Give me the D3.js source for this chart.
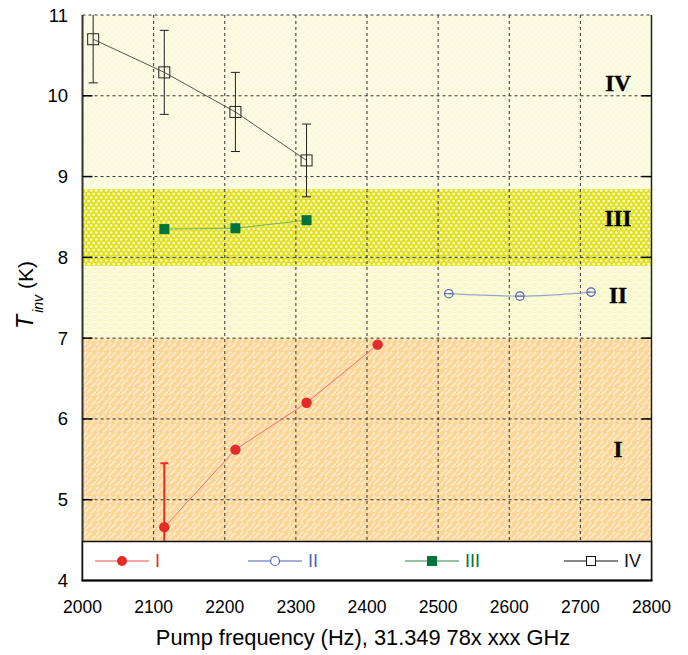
<!DOCTYPE html>
<html><head><meta charset="utf-8">
<script src="https://cdn.jsdelivr.net/npm/d3@7/dist/d3.min.js"></script>
<style>body{margin:0;background:#fff}svg{display:block}</style>
</head><body>
<script>
// ---- data ----
const xTicks = [2000, 2100, 2200, 2300, 2400, 2500, 2600, 2700, 2800];
const yTicks = [4, 5, 6, 7, 8, 9, 10, 11];
const seriesNames = ["I", "II", "III", "IV"];
const xI = [2115, 2215, 2315, 2415];
const yI = [4.66, 5.62, 6.20, 6.92];
const eI = [0.79, 0, 0, 0];
const xII = [2515, 2615, 2715];
const yII = [7.55, 7.52, 7.57];
const xIII = [2115, 2215, 2315];
const yIII = [8.35, 8.36, 8.46];
const xIV = [2015, 2115, 2215, 2315];
const yIV = [10.70, 10.29, 9.80, 9.20];
const eIV = [0.54, 0.52, 0.49, 0.45];
const bandNames = ["I", "II", "III", "IV"];
const bandLo = [4, 7.0, 7.895, 8.845];
const bandHi = [7.0, 7.895, 8.845, 11];
const bandLabelY = [5.6, 7.5, 8.45, 10.12];

const W = 688, H = 655;
const L = 82.5, R = 651.5, T = 15, B = 580.5;
const legTop = 541.5;

const svg = d3.select("body").append("svg").attr("width", W).attr("height", H);
const x = d3.scaleLinear().domain([2000, 2800]).range([L, R]);
const y = d3.scaleLinear().domain([4, 11]).range([B, T]);

const defs = svg.append("defs");
// Band I: orange with light diagonal dashes
const p1 = defs.append("pattern").attr("id", "pI").attr("patternUnits", "userSpaceOnUse").attr("width", 12).attr("height", 9);
p1.append("rect").attr("width", 12).attr("height", 9).attr("fill", "#fcd593");
p1.append("path").attr("d", "M1,8 L8,1 M7,9.5 L12,4.5 M-1,4.5 L3,0.5").attr("stroke", "#fde9c8").attr("stroke-width", 2);
// Band II: pale yellow scales
const p2 = defs.append("pattern").attr("id", "pII").attr("patternUnits", "userSpaceOnUse").attr("width", 10).attr("height", 8);
p2.append("rect").attr("width", 10).attr("height", 8).attr("fill", "#f7f7c8");
p2.append("path").attr("d", "M0,4 Q5,-1 10,4 M-5,8 Q0,3 5,8 M5,8 Q10,3 15,8").attr("stroke", "#fdfde8").attr("stroke-width", 1.3).attr("fill", "none");
// Band III: yellow with white dots
const p3 = defs.append("pattern").attr("id", "pIII").attr("patternUnits", "userSpaceOnUse").attr("width", 5).attr("height", 7);
p3.append("rect").attr("width", 5).attr("height", 7).attr("fill", "#e2e01c");
p3.append("circle").attr("cx", 1.2).attr("cy", 1.5).attr("r", 1.35).attr("fill", "#fcfcd8");
p3.append("circle").attr("cx", 3.7).attr("cy", 5).attr("r", 1.35).attr("fill", "#fcfcd8");
// Band IV: pale yellow faint checker
const p4 = defs.append("pattern").attr("id", "pIV").attr("patternUnits", "userSpaceOnUse").attr("width", 6).attr("height", 6);
p4.append("rect").attr("width", 6).attr("height", 6).attr("fill", "#f9f9dc");
p4.append("rect").attr("x", 0).attr("y", 0).attr("width", 3).attr("height", 3).attr("fill", "#fbfbe6");
p4.append("rect").attr("x", 3).attr("y", 3).attr("width", 3).attr("height", 3).attr("fill", "#fbfbe6");

defs.append("clipPath").attr("id", "plotClip").append("rect")
  .attr("x", L).attr("y", T).attr("width", R - L).attr("height", legTop - T);

// bands
const patIds = ["pI", "pII", "pIII", "pIV"];
bandNames.forEach((n, i) => {
  svg.append("rect").attr("x", L).attr("width", R - L)
    .attr("y", y(bandHi[i])).attr("height", y(bandLo[i]) - y(bandHi[i]))
    .attr("fill", `url(#${patIds[i]})`);
});

// grid
const grid = svg.append("g").attr("stroke", "#333").attr("stroke-width", 1).attr("stroke-dasharray", "3,3");
xTicks.slice(1, -1).forEach(v => grid.append("line").attr("x1", x(v)).attr("x2", x(v)).attr("y1", T).attr("y2", legTop));
yTicks.slice(1, -1).forEach(v => grid.append("line").attr("x1", L).attr("x2", R).attr("y1", y(v)).attr("y2", y(v)));
// top border dashed
svg.append("line").attr("x1", L).attr("x2", R).attr("y1", T).attr("y2", T).attr("stroke", "#333").attr("stroke-dasharray", "3,3");

// band labels
bandNames.forEach((n, i) => {
  svg.append("text").attr("x", 618).attr("y", y(bandLabelY[i])).attr("text-anchor", "middle")
    .attr("dominant-baseline", "middle")
    .attr("font-family", "Liberation Serif, serif").attr("font-weight", "bold").attr("font-size", 23)
    .attr("stroke", "#000").attr("stroke-width", 0.4)
    .text(n);
});

// data
const data = svg.append("g").attr("clip-path", "url(#plotClip)");
const line = d3.line().x(d => x(d[0])).y(d => y(d[1]));
const zip = (a, b) => a.map((v, i) => [v, b[i]]);

// IV
const dIV = zip(xIV, yIV);
data.append("path").attr("d", line(dIV)).attr("fill", "none").attr("stroke", "#555").attr("stroke-width", 1);
dIV.forEach((d, i) => {
  const g = data.append("g").attr("stroke", "#222").attr("stroke-width", 1);
  g.append("line").attr("x1", x(d[0])).attr("x2", x(d[0])).attr("y1", y(d[1] + eIV[i])).attr("y2", y(d[1] - eIV[i]));
  [d[1] + eIV[i], d[1] - eIV[i]].forEach(v => g.append("line").attr("x1", x(d[0]) - 4.5).attr("x2", x(d[0]) + 4.5).attr("y1", y(v)).attr("y2", y(v)));
  data.append("rect").attr("x", x(d[0]) - 5.5).attr("y", y(d[1]) - 5.5).attr("width", 11).attr("height", 11)
    .attr("fill", "none").attr("stroke", "#222").attr("stroke-width", 1);
});
// III
const dIII = zip(xIII, yIII);
data.append("path").attr("d", line(dIII)).attr("fill", "none").attr("stroke", "#74b060").attr("stroke-width", 1);
dIII.forEach(d => data.append("rect").attr("x", x(d[0]) - 5).attr("y", y(d[1]) - 5).attr("width", 10).attr("height", 10).attr("fill", "#00733a"));
// II
const dII = zip(xII, yII);
data.append("path").attr("d", d3.line().curve(d3.curveMonotoneX).x(d => x(d[0])).y(d => y(d[1]))(dII))
  .attr("fill", "none").attr("stroke", "#98a6cc").attr("stroke-width", 1.2);
dII.forEach(d => {
  data.append("circle").attr("cx", x(d[0])).attr("cy", y(d[1])).attr("r", 4.2).attr("fill", "none").attr("stroke", "#4a62b8").attr("stroke-width", 1.2);
  data.append("line").attr("x1", x(d[0]) - 4).attr("x2", x(d[0]) + 4).attr("y1", y(d[1])).attr("y2", y(d[1])).attr("stroke", "#4a62b8").attr("stroke-width", 1);
});
// I
const dI = zip(xI, yI);
data.append("path").attr("d", line(dI)).attr("fill", "none").attr("stroke", "#f07070").attr("stroke-width", 1);
dI.forEach((d, i) => {
  if (eI[i] > 0) {
    data.append("line").attr("x1", x(d[0])).attr("x2", x(d[0])).attr("y1", y(d[1] + eI[i])).attr("y2", y(d[1] - eI[i])).attr("stroke", "#e52a2a").attr("stroke-width", 2);
    data.append("line").attr("x1", x(d[0]) - 4).attr("x2", x(d[0]) + 4).attr("y1", y(d[1] + eI[i])).attr("y2", y(d[1] + eI[i])).attr("stroke", "#e52a2a").attr("stroke-width", 2);
  }
  data.append("circle").attr("cx", x(d[0])).attr("cy", y(d[1])).attr("r", 5.2).attr("fill", "#e52a2a");
});

// borders
svg.append("line").attr("x1", L).attr("x2", L).attr("y1", T).attr("y2", B).attr("stroke", "#333").attr("stroke-width", 2);
svg.append("line").attr("x1", R).attr("x2", R).attr("y1", T).attr("y2", B).attr("stroke", "#222").attr("stroke-width", 1.5);

// ticks inward
yTicks.slice(1, -1).forEach(v => {
  svg.append("line").attr("x1", L).attr("x2", L + 10).attr("y1", y(v)).attr("y2", y(v)).attr("stroke", "#000").attr("stroke-width", 1.5);
  svg.append("line").attr("x1", R - 10).attr("x2", R).attr("y1", y(v)).attr("y2", y(v)).attr("stroke", "#000").attr("stroke-width", 1.5);
});

// legend
const lg = svg.append("g");
lg.append("rect").attr("x", L).attr("y", legTop).attr("width", R - L).attr("height", B - legTop)
  .attr("fill", "#fff").attr("stroke", "#111").attr("stroke-width", 1.5);
lg.append("line").attr("x1", L - 1).attr("x2", R + 1).attr("y1", B).attr("y2", B).attr("stroke", "#000").attr("stroke-width", 2);
const legX = [95, 248, 405, 564];
const legColors = ["#e52a2a", "#4a62b8", "#00733a", "#111"];
const legLineColors = ["#e85050", "#4a62b8", "#2a8a4a", "#111"];
const ly = 561;
seriesNames.forEach((n, i) => {
  const x0 = legX[i], xm = x0 + 27;
  lg.append("line").attr("x1", x0).attr("x2", x0 + 54).attr("y1", ly).attr("y2", ly).attr("stroke", legLineColors[i]).attr("stroke-width", 1.2);
  if (i === 0) lg.append("circle").attr("cx", xm).attr("cy", ly).attr("r", 5).attr("fill", legColors[i]);
  if (i === 1) lg.append("circle").attr("cx", xm).attr("cy", ly).attr("r", 4.5).attr("fill", "#fff").attr("stroke", legColors[i]).attr("stroke-width", 1.2);
  if (i === 2) lg.append("rect").attr("x", xm - 5).attr("y", ly - 5).attr("width", 10).attr("height", 10).attr("fill", legColors[i]);
  if (i === 3) lg.append("rect").attr("x", xm - 4.5).attr("y", ly - 4.5).attr("width", 9).attr("height", 9).attr("fill", "#fff").attr("stroke", legColors[i]).attr("stroke-width", 1);
  lg.append("text").attr("x", x0 + 60).attr("y", ly).attr("dominant-baseline", "central")
    .attr("font-family", "Liberation Sans, Arial, sans-serif").attr("font-size", 18)
    .attr("fill", legColors[i]).text(n);
});

// tick labels
const fnt = "Liberation Sans, Arial, sans-serif";
xTicks.forEach(v => svg.append("text").attr("x", x(v)).attr("y", 612.5).attr("text-anchor", "middle")
  .attr("font-family", fnt).attr("font-size", 17.5).text(v));
yTicks.forEach(v => svg.append("text").attr("x", 68).attr("y", y(v)).attr("text-anchor", "end")
  .attr("dominant-baseline", "central").attr("font-family", fnt).attr("font-size", 18.5).text(v));

// axis titles
svg.append("text").attr("x", 363).attr("y", 645).attr("text-anchor", "middle")
  .attr("font-family", fnt).attr("font-size", 21.8).text("Pump frequency (Hz), 31.349 78x xxx GHz");
const yt = svg.append("text").attr("transform", "translate(33,295) rotate(-90)").attr("text-anchor", "middle")
  .attr("font-family", fnt);
yt.append("tspan").attr("font-style", "italic").attr("font-size", 23).text("T");
yt.append("tspan").attr("font-style", "italic").attr("font-size", 14).attr("dy", 10).attr("dx", 2).text("inv");
yt.append("tspan").attr("font-size", 21).attr("dy", -10).text(" (K)");
</script>
</body></html>
